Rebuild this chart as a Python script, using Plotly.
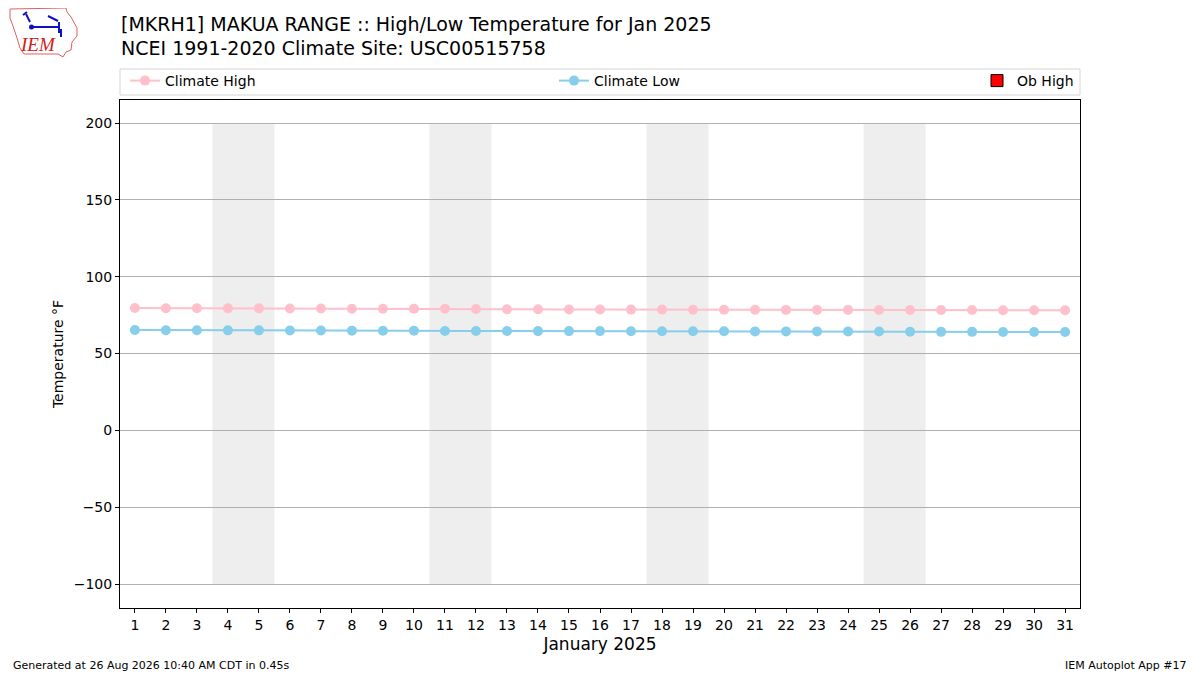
import plotly.graph_objects as go

# datos
days = list(range(1, 32))
clim_high = [79.6, 79.5, 79.5, 79.4, 79.4, 79.3, 79.3, 79.2, 79.2, 79.1, 79.1, 79.0,
             78.8, 78.8, 78.7, 78.7, 78.6, 78.6, 78.5, 78.5, 78.5, 78.4, 78.4, 78.4,
             78.3, 78.3, 78.3, 78.3, 78.2, 78.2, 78.2]
clim_low = [65.3, 65.2, 65.2, 65.1, 65.1, 65.0, 65.0, 64.9, 64.8, 64.8, 64.7, 64.7,
            64.7, 64.6, 64.6, 64.6, 64.5, 64.5, 64.5, 64.5, 64.4, 64.4, 64.4, 64.4,
            64.3, 64.2, 64.1, 64.1, 64.0, 64.0, 64.0]
weekend_starts = [4, 11, 18, 25]
y_ticks = [-100, -50, 0, 50, 100, 150, 200]

title1 = "[MKRH1] MAKUA RANGE :: High/Low Temperature for Jan 2025"
title2 = "NCEI 1991-2020 Climate Site: USC00515758"
footer_left = "Generated at 26 Aug 2026 10:40 AM CDT in 0.45s"
footer_right = "IEM Autoplot App #17"

# la página pone la figura a 8px del borde, así que se descuenta
OFF = 8
W, H = 1200 - OFF, 675 - OFF
L, R, T, B = 120 - OFF, W - (1080 - OFF), 100 - OFF, H - (608 - OFF)


def px(x):
    # x en pixeles de la imagen de referencia -> paper
    return (x - OFF - L) / (W - L - R)


def py(y):
    return (H - B - (y - OFF)) / (H - T - B)


FONT = "DejaVu Sans"

fig = go.Figure()

fig.add_trace(go.Scatter(
    x=days, y=clim_high, mode="lines+markers", name="Climate High",
    line=dict(color="pink", width=2), marker=dict(color="pink", size=10),
    legend="legend"))
fig.add_trace(go.Scatter(
    x=days, y=clim_low, mode="lines+markers", name="Climate Low",
    line=dict(color="skyblue", width=2), marker=dict(color="skyblue", size=10),
    legend="legend2"))
fig.add_trace(go.Bar(
    x=[None], y=[None], name="Ob High",
    marker=dict(color="red", line=dict(color="black", width=1)),
    legend="legend3"))

shapes = []
for d in weekend_starts:
    shapes.append(dict(type="rect", xref="x", yref="y", x0=d - 0.5, x1=d + 1.5,
                       y0=-100, y1=200, fillcolor="#eeeeee", line_width=0,
                       layer="below"))

# caja de la leyenda
shapes.append(dict(type="rect", xref="paper", yref="paper",
                   x0=px(120), x1=px(1080), y0=py(95), y1=py(69),
                   line=dict(color="#d5d5d5", width=1), fillcolor="rgba(0,0,0,0)"))

# logo IEM (aproximado)
iowa = [(10, 9), (66, 8), (67, 12), (71, 17), (77, 28), (77, 36), (72, 42),
        (71, 50), (66, 52), (63, 57), (58, 54), (24, 54), (20, 48), (17, 38),
        (13, 26), (10, 18)]
path = "M " + " L ".join(f"{px(a):.5f},{py(b):.5f}" for a, b in iowa) + " Z"
shapes.append(dict(type="path", xref="paper", yref="paper", path=path,
                   line=dict(color="#e06060", width=1)))
for (a0, b0, a1, b1) in [(31, 27, 60, 27), (59, 22, 59, 33), (61, 29, 61, 37),
                         (26, 14, 30, 22), (48, 16, 58, 21), (27, 12, 23, 15)]:
    shapes.append(dict(type="line", xref="paper", yref="paper",
                       x0=px(a0), y0=py(b0), x1=px(a1), y1=py(b1),
                       line=dict(color="#1010c0", width=2)))
shapes.append(dict(type="circle", xref="paper", yref="paper",
                   x0=px(29), x1=px(34), y0=py(29.5), y1=py(24.5),
                   fillcolor="#1010c0", line_width=0))

annotations = [
    dict(text=title1, x=px(119), y=py(24), xref="paper", yref="paper",
         xanchor="left", yanchor="middle", showarrow=False,
         font=dict(family=FONT, size=19, color="black")),
    dict(text=title2, x=px(119), y=py(48), xref="paper", yref="paper",
         xanchor="left", yanchor="middle", showarrow=False,
         font=dict(family=FONT, size=19, color="black")),
    dict(text=footer_left, x=px(11), y=py(665), xref="paper", yref="paper",
         xanchor="left", yanchor="middle", showarrow=False,
         font=dict(family=FONT, size=11, color="black")),
    dict(text=footer_right, x=px(1189), y=py(665), xref="paper", yref="paper",
         xanchor="right", yanchor="middle", showarrow=False,
         font=dict(family=FONT, size=11, color="black")),
    dict(text="<i>IEM</i>", x=px(38), y=py(45), xref="paper", yref="paper",
         xanchor="center", yanchor="middle", showarrow=False,
         font=dict(family="Liberation Serif", size=19, color="#d02020")),
]

leg = dict(orientation="h", xref="paper", yref="paper", yanchor="middle",
           bgcolor="rgba(0,0,0,0)", borderwidth=0,
           font=dict(family=FONT, size=14, color="black"))

fig.update_layout(
    width=W, height=H,
    margin=dict(l=L, r=R, t=T, b=B),
    paper_bgcolor="white", plot_bgcolor="white",
    shapes=shapes, annotations=annotations,
    legend=dict(leg, x=px(125), y=py(81), xanchor="left"),
    legend2=dict(leg, x=px(554), y=py(81), xanchor="left"),
    legend3=dict(leg, x=px(977), y=py(81), xanchor="left"),
    xaxis=dict(range=[0.52, 31.48], tickvals=days, ticks="outside", ticklen=4,
               tickcolor="black", showgrid=False, zeroline=False,
               showline=True, linecolor="black", mirror=True,
               tickfont=dict(family=FONT, size=14, color="black"),
               title=dict(text="January 2025",
                          font=dict(family=FONT, size=17, color="black"),
                          standoff=6)),
    yaxis=dict(range=[-115.6, 215], tickvals=y_ticks,
               ticktext=[str(v).replace("-", "\u2212") for v in y_ticks],
               ticks="outside", ticklen=4, tickcolor="black",
               showgrid=True, gridcolor="#b0b0b0", gridwidth=1, zeroline=False,
               showline=True, linecolor="black", mirror=True,
               tickfont=dict(family=FONT, size=14, color="black"),
               title=dict(text="Temperature °F",
                          font=dict(family=FONT, size=14, color="black"),
                          standoff=6)),
    showlegend=True,
)

fig.write_html("out.html")
